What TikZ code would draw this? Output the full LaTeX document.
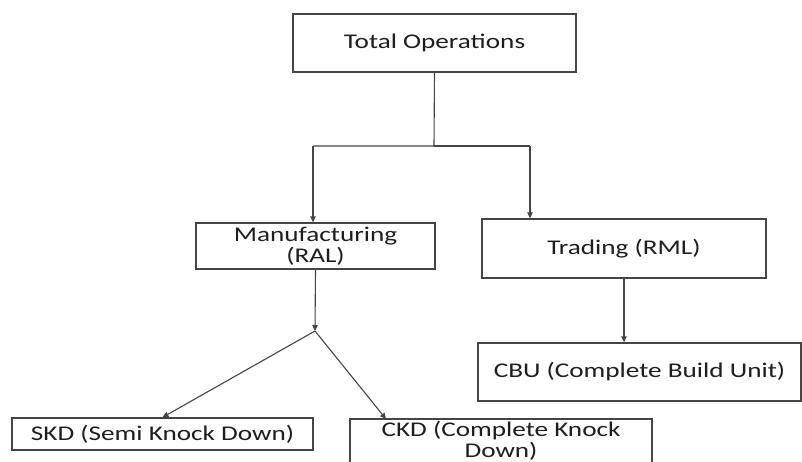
\documentclass[tikz,border=0pt]{standalone}
\usepackage{fontspec}
\setmainfont{Carlito}[FakeStretch=1.3]
\usetikzlibrary{arrows.meta}
\definecolor{edge}{HTML}{454545}
\definecolor{ink}{HTML}{1e1e1e}
\tikzset{
  box/.style={draw=edge, line width=1.3bp, fill=white, inner sep=0pt, align=center,
    text=ink, font=\fontsize{21}{21.5}\selectfont},
  conn/.style={draw=edge, line width=1.1bp},
  arr/.style={conn, -{Triangle[length=6bp,width=5.5bp]}}
}
\begin{document}
\begin{tikzpicture}[x=1bp,y=-1bp]
\useasboundingbox[fill=white] (0,0) rectangle (802,462);
\clip (0,0) rectangle (802,462);
\node[box, minimum width=283bp, minimum height=58bp] (total) at (434.5,43) {Total Operations};
\node[box, minimum width=239bp, minimum height=46bp] (manuf) at (315.5,246) {Manufacturing\\(RAL)};
\node[box, minimum width=284bp, minimum height=59bp] (trading) at (624,248.5) {Trading (RML)};
\node[box, minimum width=323bp, minimum height=58bp] (cbu) at (639.5,372) {CBU (Complete Build Unit)};
\node[box, minimum width=301bp, minimum height=32bp] (skd) at (162.5,434) {SKD (Semi Knock Down)};
\node[box, minimum width=302bp, minimum height=44bp] (ckd) at (501,441) {CKD (Complete Knock\\Down)};
\coordinate (junc) at (434,146);
\coordinate (jl) at (313,146);
\coordinate (jr) at (530,146);
\coordinate (split) at (315,331);
\coordinate (ckdin) at (386,419);
\draw[conn] (total.south) -- (junc) -- (jl);
\draw[conn] (junc) -- (jr);
\draw[arr] (jl) -- (jl |- manuf.north);
\draw[arr] (jr) -- (jr |- trading.north);
\draw[arr] (manuf.south) -- (split);
\draw[arr] (split) -- (skd.north);
\draw[arr] (split) -- (ckdin);
\draw[arr] (trading.south) -- (trading.south |- cbu.north);
\end{tikzpicture}
\end{document}
